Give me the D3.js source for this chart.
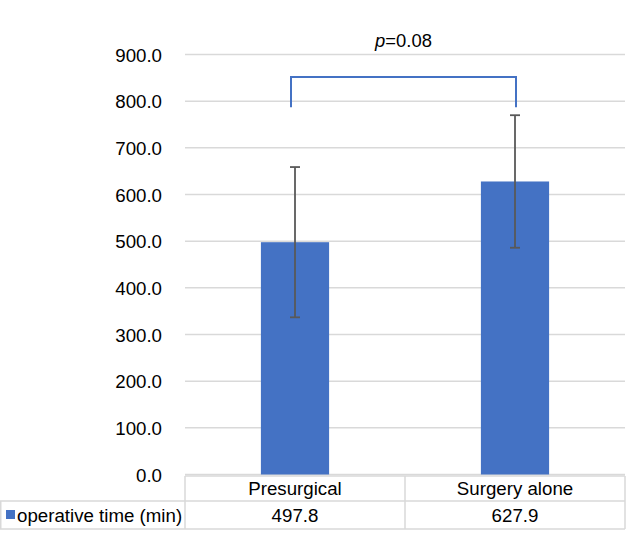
<!DOCTYPE html>
<html>
<head>
<meta charset="utf-8">
<script src="https://cdn.jsdelivr.net/npm/d3@7"></script>
<style>
body{margin:0;background:#fff;}
text{font-family:"Liberation Sans",Arial,sans-serif;fill:#000;}
</style>
</head>
<body>
<svg id="chart" width="630" height="543"></svg>
<script>
const categories = ["Presurgical", "Surgery alone"];
const values = [497.8, 627.9];
const errors = [161, 142];
const seriesName = "operative time (min)";
const yTicks = [0, 100, 200, 300, 400, 500, 600, 700, 800, 900];
const pLabel = "0.08";
const bracketLevels = [787, 852];

const svg = d3.select("#chart");
const FS = 18.7;
const plotLeft = 185, plotRight = 625;
const y = d3.scaleLinear().domain([0, 900]).range([474.5, 54.5]);
const x = d3.scaleBand().domain(categories).range([plotLeft, plotRight]).paddingInner(0).paddingOuter(0);
const barW = x.bandwidth() * 0.31;
const blue = "#4472C4";
const gridC = "#d9d9d9";

// gridlines
svg.append("g").selectAll("line").data(yTicks).join("line")
  .attr("x1", plotLeft).attr("x2", plotRight)
  .attr("y1", d => y(d)).attr("y2", d => y(d))
  .attr("stroke", gridC).attr("stroke-width", 1.5);

// y axis labels
const yAxis = d3.axisLeft(y).tickValues(yTicks).tickFormat(d3.format(".1f")).tickSize(0).tickPadding(0);
const ga = svg.append("g").attr("transform", "translate(162,0)").call(yAxis);
ga.select(".domain").remove();
ga.selectAll("text").attr("font-size", FS).attr("font-family", "Liberation Sans, Arial, sans-serif").attr("fill", "#000").attr("dy", "0.35em");

// bars
svg.append("g").selectAll("rect").data(values).join("rect")
  .attr("x", (d, i) => x(categories[i]) + x.bandwidth() / 2 - barW / 2)
  .attr("width", barW)
  .attr("y", d => y(d))
  .attr("height", d => y(0) - y(d))
  .attr("fill", blue);

// error bars
const eg = svg.append("g").attr("stroke", "#595959").attr("stroke-width", 1.8);
values.forEach((v, i) => {
  const cx = x(categories[i]) + x.bandwidth() / 2;
  eg.append("line").attr("x1", cx).attr("x2", cx).attr("y1", y(v + errors[i])).attr("y2", y(v - errors[i]));
  eg.append("line").attr("x1", cx - 5).attr("x2", cx + 5).attr("y1", y(v + errors[i])).attr("y2", y(v + errors[i]));
  eg.append("line").attr("x1", cx - 5).attr("x2", cx + 5).attr("y1", y(v - errors[i])).attr("y2", y(v - errors[i]));
});

// significance bracket
const c0 = x(categories[0]) + x.bandwidth() / 2 - 4;
const c1 = x(categories[1]) + x.bandwidth() / 2 + 1;
svg.append("path")
  .attr("d", `M${c0},${y(bracketLevels[0])}V${y(bracketLevels[1])}H${c1}V${y(bracketLevels[0])}`)
  .attr("fill", "none").attr("stroke", blue).attr("stroke-width", 2);
const pt = svg.append("text").attr("x", (c0 + c1) / 2).attr("y", 47).attr("text-anchor", "middle").attr("font-size", 18.4);
pt.append("tspan").attr("font-style", "italic").text("p");
pt.append("tspan").text("=" + pLabel);

// data table
const tg = svg.append("g");
const rowTop = 476, rowMid = 501, rowBot = 529;
function ln(x1, y1, x2, y2) {
  tg.append("line").attr("x1", x1).attr("y1", y1).attr("x2", x2).attr("y2", y2)
    .attr("stroke", gridC).attr("stroke-width", 1.5);
}
ln(plotLeft, rowTop, plotRight, rowTop);
ln(0, rowMid, plotRight, rowMid);
ln(0, rowBot, plotRight, rowBot);
ln(0.75, rowMid, 0.75, rowBot);
ln(plotLeft, rowTop, plotLeft, rowBot);
categories.forEach((c) => {
  ln(x(c) + x.bandwidth(), rowTop, x(c) + x.bandwidth(), rowBot);
});
tg.selectAll("text.cat").data(categories).join("text").attr("class", "cat")
  .attr("x", d => x(d) + x.bandwidth() / 2).attr("y", (rowTop + rowMid) / 2).attr("dy", "0.35em")
  .attr("text-anchor", "middle").attr("font-size", FS).text(d => d);
tg.selectAll("text.val").data(values).join("text").attr("class", "val")
  .attr("x", (d, i) => x(categories[i]) + x.bandwidth() / 2).attr("y", (rowMid + rowBot) / 2).attr("dy", "0.35em")
  .attr("text-anchor", "middle").attr("font-size", FS).text(d => d3.format(".1f")(d));
tg.append("rect").attr("x", 6).attr("y", 510).attr("width", 9).attr("height", 9).attr("fill", blue);
tg.append("text").attr("x", 17).attr("y", (rowMid + rowBot) / 2).attr("dy", "0.35em").attr("font-size", FS).text(seriesName);
</script>
</body>
</html>
